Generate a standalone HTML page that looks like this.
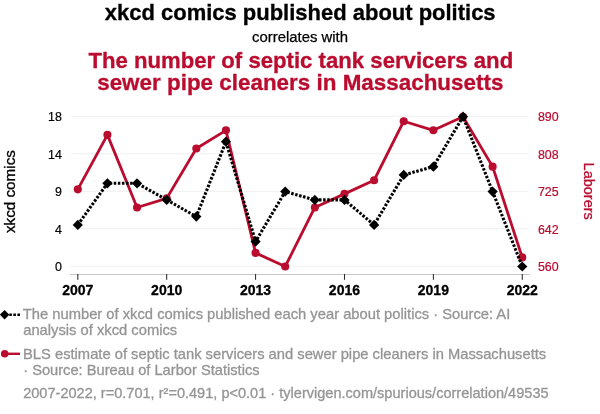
<!DOCTYPE html>
<html><head><meta charset="utf-8"><title>xkcd comics published about politics</title>
<style>
html,body{margin:0;padding:0;background:#fff}
body{width:600px;height:414px;overflow:hidden}
svg{display:block}
svg text{font-family:"Liberation Sans",Arial,Helvetica,sans-serif;white-space:pre}
</style></head><body>
<svg width="600" height="414" viewBox="0 0 600 414">
<line x1="70.5" x2="528.5" y1="116.25" y2="116.25" stroke="#efefef" stroke-width="1"/>
<line x1="70.5" x2="528.5" y1="153.75" y2="153.75" stroke="#efefef" stroke-width="1"/>
<line x1="70.5" x2="528.5" y1="191.25" y2="191.25" stroke="#efefef" stroke-width="1"/>
<line x1="70.5" x2="528.5" y1="228.75" y2="228.75" stroke="#efefef" stroke-width="1"/>
<line x1="70.5" x2="528.5" y1="266.25" y2="266.25" stroke="#efefef" stroke-width="1"/>
<line x1="70.2" x2="529.5" y1="274.5" y2="274.5" stroke="#c6c6c6" stroke-width="1"/>
<line x1="77.80" x2="77.80" y1="274" y2="279.8" stroke="#222" stroke-width="1"/>
<line x1="166.69" x2="166.69" y1="274" y2="279.8" stroke="#222" stroke-width="1"/>
<line x1="255.58" x2="255.58" y1="274" y2="279.8" stroke="#222" stroke-width="1"/>
<line x1="344.47" x2="344.47" y1="274" y2="279.8" stroke="#222" stroke-width="1"/>
<line x1="433.36" x2="433.36" y1="274" y2="279.8" stroke="#222" stroke-width="1"/>
<line x1="522.25" x2="522.25" y1="274" y2="279.8" stroke="#222" stroke-width="1"/>
<polyline points="77.80,189.33 107.43,134.86 137.06,207.49 166.69,198.41 196.32,148.48 225.95,130.32 255.58,252.88 285.21,266.50 314.84,207.49 344.47,193.87 374.10,180.25 403.73,121.24 433.36,130.32 462.99,116.70 492.62,166.63 522.25,257.42" fill="none" stroke="#ba0c2f" stroke-width="2.8" stroke-linejoin="round"/>
<circle cx="77.80" cy="189.33" r="4.05" fill="#ba0c2f"/>
<circle cx="107.43" cy="134.86" r="4.05" fill="#ba0c2f"/>
<circle cx="137.06" cy="207.49" r="4.05" fill="#ba0c2f"/>
<circle cx="166.69" cy="198.41" r="4.05" fill="#ba0c2f"/>
<circle cx="196.32" cy="148.48" r="4.05" fill="#ba0c2f"/>
<circle cx="225.95" cy="130.32" r="4.05" fill="#ba0c2f"/>
<circle cx="255.58" cy="252.88" r="4.05" fill="#ba0c2f"/>
<circle cx="285.21" cy="266.50" r="4.05" fill="#ba0c2f"/>
<circle cx="314.84" cy="207.49" r="4.05" fill="#ba0c2f"/>
<circle cx="344.47" cy="193.87" r="4.05" fill="#ba0c2f"/>
<circle cx="374.10" cy="180.25" r="4.05" fill="#ba0c2f"/>
<circle cx="403.73" cy="121.24" r="4.05" fill="#ba0c2f"/>
<circle cx="433.36" cy="130.32" r="4.05" fill="#ba0c2f"/>
<circle cx="462.99" cy="116.70" r="4.05" fill="#ba0c2f"/>
<circle cx="492.62" cy="166.63" r="4.05" fill="#ba0c2f"/>
<circle cx="522.25" cy="257.42" r="4.05" fill="#ba0c2f"/>
<polyline points="77.80,224.89 107.43,183.28 137.06,183.28 166.69,199.92 196.32,216.57 225.95,141.67 255.58,241.53 285.21,191.60 314.84,199.92 344.47,199.92 374.10,224.89 403.73,174.96 433.36,166.63 462.99,116.70 492.62,191.60 522.25,266.50" fill="none" stroke="#000" stroke-width="3.1" stroke-dasharray="2.5,1.6" stroke-linejoin="round"/>
<polygon points="77.80,219.79 82.90,224.89 77.80,229.99 72.70,224.89" fill="#000"/>
<polygon points="107.43,178.18 112.53,183.28 107.43,188.38 102.33,183.28" fill="#000"/>
<polygon points="137.06,178.18 142.16,183.28 137.06,188.38 131.96,183.28" fill="#000"/>
<polygon points="166.69,194.82 171.79,199.92 166.69,205.02 161.59,199.92" fill="#000"/>
<polygon points="196.32,211.47 201.42,216.57 196.32,221.67 191.22,216.57" fill="#000"/>
<polygon points="225.95,136.57 231.05,141.67 225.95,146.77 220.85,141.67" fill="#000"/>
<polygon points="255.58,236.43 260.68,241.53 255.58,246.63 250.48,241.53" fill="#000"/>
<polygon points="285.21,186.50 290.31,191.60 285.21,196.70 280.11,191.60" fill="#000"/>
<polygon points="314.84,194.82 319.94,199.92 314.84,205.02 309.74,199.92" fill="#000"/>
<polygon points="344.47,194.82 349.57,199.92 344.47,205.02 339.37,199.92" fill="#000"/>
<polygon points="374.10,219.79 379.20,224.89 374.10,229.99 369.00,224.89" fill="#000"/>
<polygon points="403.73,169.86 408.83,174.96 403.73,180.06 398.63,174.96" fill="#000"/>
<polygon points="433.36,161.53 438.46,166.63 433.36,171.73 428.26,166.63" fill="#000"/>
<polygon points="462.99,111.60 468.09,116.70 462.99,121.80 457.89,116.70" fill="#000"/>
<polygon points="492.62,186.50 497.72,191.60 492.62,196.70 487.52,191.60" fill="#000"/>
<polygon points="522.25,261.40 527.35,266.50 522.25,271.60 517.15,266.50" fill="#000"/>
<text x="61.9" y="121.15" font-size="12.4" fill="#000" text-anchor="end" stroke="#000" stroke-width="0.2">18</text>
<text x="61.9" y="158.65" font-size="12.4" fill="#000" text-anchor="end" stroke="#000" stroke-width="0.2">14</text>
<text x="61.9" y="196.15" font-size="12.4" fill="#000" text-anchor="end" stroke="#000" stroke-width="0.2">9</text>
<text x="61.9" y="233.65" font-size="12.4" fill="#000" text-anchor="end" stroke="#000" stroke-width="0.2">4</text>
<text x="61.9" y="271.15" font-size="12.4" fill="#000" text-anchor="end" stroke="#000" stroke-width="0.2">0</text>
<text x="537.9" y="121.15" font-size="12.4" fill="#ba0c2f" stroke="#ba0c2f" stroke-width="0.2">890</text>
<text x="537.9" y="158.65" font-size="12.4" fill="#ba0c2f" stroke="#ba0c2f" stroke-width="0.2">808</text>
<text x="537.9" y="196.15" font-size="12.4" fill="#ba0c2f" stroke="#ba0c2f" stroke-width="0.2">725</text>
<text x="537.9" y="233.65" font-size="12.4" fill="#ba0c2f" stroke="#ba0c2f" stroke-width="0.2">642</text>
<text x="537.9" y="271.15" font-size="12.4" fill="#ba0c2f" stroke="#ba0c2f" stroke-width="0.2">560</text>
<text x="62.20" y="294.9" font-size="15" fill="#000" font-weight="bold" textLength="31.2" lengthAdjust="spacingAndGlyphs" stroke="#000" stroke-width="0.3">2007</text>
<text x="151.09" y="294.9" font-size="15" fill="#000" font-weight="bold" textLength="31.2" lengthAdjust="spacingAndGlyphs" stroke="#000" stroke-width="0.3">2010</text>
<text x="239.98" y="294.9" font-size="15" fill="#000" font-weight="bold" textLength="31.2" lengthAdjust="spacingAndGlyphs" stroke="#000" stroke-width="0.3">2013</text>
<text x="328.87" y="294.9" font-size="15" fill="#000" font-weight="bold" textLength="31.2" lengthAdjust="spacingAndGlyphs" stroke="#000" stroke-width="0.3">2016</text>
<text x="417.76" y="294.9" font-size="15" fill="#000" font-weight="bold" textLength="31.2" lengthAdjust="spacingAndGlyphs" stroke="#000" stroke-width="0.3">2019</text>
<text x="506.65" y="294.9" font-size="15" fill="#000" font-weight="bold" textLength="31.2" lengthAdjust="spacingAndGlyphs" stroke="#000" stroke-width="0.3">2022</text>
<text transform="translate(15.3,191.6) rotate(-90)" font-size="14.2" text-anchor="middle" textLength="83" lengthAdjust="spacingAndGlyphs" fill="#000" stroke="#000" stroke-width="0.3">xkcd comics</text>
<text transform="translate(583.8,191.2) rotate(90)" font-size="15.3" text-anchor="middle" textLength="57.2" lengthAdjust="spacingAndGlyphs" fill="#ba0c2f" stroke="#ba0c2f" stroke-width="0.3">Laborers</text>
<text x="104.8" y="19.6" font-size="21.7" fill="#000" font-weight="bold" textLength="390.8" lengthAdjust="spacingAndGlyphs" stroke="#000" stroke-width="0.3">xkcd comics published about politics</text>
<text x="252" y="41.6" font-size="14.7" fill="#000" textLength="96" lengthAdjust="spacingAndGlyphs" stroke="#000" stroke-width="0.25">correlates with</text>
<text x="88.4" y="67.8" font-size="22" fill="#ba0c2f" font-weight="bold" textLength="424.8" lengthAdjust="spacingAndGlyphs" stroke="#ba0c2f" stroke-width="0.3">The number of septic tank servicers and</text>
<text x="97.2" y="89.6" font-size="22" fill="#ba0c2f" font-weight="bold" textLength="406.2" lengthAdjust="spacingAndGlyphs" stroke="#ba0c2f" stroke-width="0.3">sewer pipe cleaners in Massachusetts</text>
<text x="22.8" y="318.6" font-size="14.5" fill="#959595" textLength="487.5" lengthAdjust="spacingAndGlyphs" stroke="#959595" stroke-width="0.3">The number of xkcd comics published each year about politics · Source: AI</text>
<text x="23.2" y="335.3" font-size="14.5" fill="#959595" textLength="154" lengthAdjust="spacingAndGlyphs" stroke="#959595" stroke-width="0.3">analysis of xkcd comics</text>
<text x="23.0" y="358.5" font-size="14.5" fill="#959595" textLength="523.2" lengthAdjust="spacingAndGlyphs" stroke="#959595" stroke-width="0.3">BLS estimate of septic tank servicers and sewer pipe cleaners in Massachusetts</text>
<text x="23.2" y="375.1" font-size="14.5" fill="#959595" textLength="236.4" lengthAdjust="spacingAndGlyphs" stroke="#959595" stroke-width="0.3">· Source: Bureau of Larbor Statistics</text>
<text x="23.2" y="397.5" font-size="14.5" fill="#959595" textLength="525.4" lengthAdjust="spacingAndGlyphs" stroke="#959595" stroke-width="0.3">2007-2022, r=0.701, r²=0.491, p&lt;0.01 · tylervigen.com/spurious/correlation/49535</text>
<rect x="9.3" y="313.5" width="2.6" height="2.5" fill="#000"/>
<rect x="13.3" y="313.5" width="2.6" height="2.5" fill="#000"/>
<rect x="17.4" y="313.5" width="2.6" height="2.5" fill="#000"/>
<polygon points="4.6,310 9.3,314.7 4.6,319.4 -0.1,314.7" fill="#000"/>
<line x1="1" x2="20" y1="353.8" y2="353.8" stroke="#ba0c2f" stroke-width="2.4"/>
<circle cx="4.7" cy="353.8" r="3.8" fill="#ba0c2f"/>
</svg>
</body></html>
